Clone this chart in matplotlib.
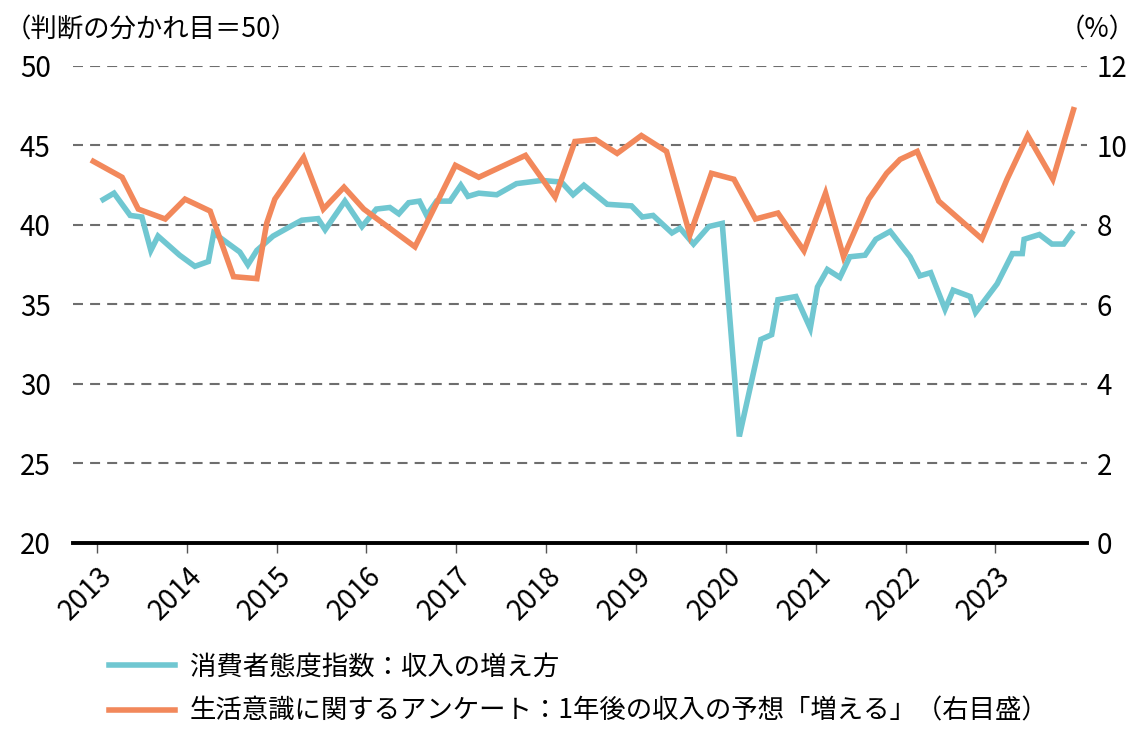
import numpy as np
import matplotlib
matplotlib.use("Agg")
import matplotlib.pyplot as plt

plt.rcParams['font.family'] = ['Noto Sans CJK JP', 'DejaVu Sans']

# ── Data (x in decimal years) ─────────────────────────────────────────────
# 消費者態度指数：収入の増え方 (left axis)
teal_t = [2013.07, 2013.19, 2013.37, 2013.50, 2013.60, 2013.68, 2013.92,
          2014.09, 2014.24, 2014.30, 2014.59, 2014.68, 2014.78, 2014.96,
          2015.15, 2015.28, 2015.46, 2015.54, 2015.76, 2015.95,
          2016.11, 2016.26, 2016.36, 2016.47, 2016.59, 2016.67, 2016.78, 2016.93,
          2017.05, 2017.13, 2017.25, 2017.45, 2017.67, 2017.95,
          2018.17, 2018.30, 2018.42, 2018.68, 2018.95,
          2019.07, 2019.19, 2019.40, 2019.49, 2019.64, 2019.81, 2019.96,
          2020.15, 2020.39, 2020.51, 2020.58, 2020.78, 2020.94,
          2021.02, 2021.13, 2021.27, 2021.38, 2021.55, 2021.67, 2021.83,
          2022.05, 2022.16, 2022.28, 2022.44, 2022.53, 2022.72, 2022.78,
          2023.02, 2023.19, 2023.30, 2023.32, 2023.49, 2023.63, 2023.76, 2023.85]
teal_v = [41.6, 42.0, 40.6, 40.5, 38.4, 39.3, 38.1,
          37.4, 37.7, 39.5, 38.3, 37.5, 38.4, 39.3,
          39.9, 40.3, 40.4, 39.7, 41.5, 39.9,
          41.0, 41.1, 40.7, 41.4, 41.5, 40.6, 41.5, 41.5,
          42.5, 41.8, 42.0, 41.9, 42.6, 42.8,
          42.7, 41.9, 42.5, 41.3, 41.2,
          40.5, 40.6, 39.5, 39.8, 38.8, 39.9, 40.1,
          26.7, 32.8, 33.1, 35.3, 35.5, 33.5,
          36.1, 37.2, 36.7, 38.0, 38.1, 39.1, 39.6,
          38.0, 36.8, 37.0, 34.7, 35.9, 35.5, 34.5,
          36.3, 38.2, 38.2, 39.1, 39.4, 38.8, 38.8, 39.5]

# 生活意識に関するアンケート：1年後の収入の予想「増える」 (right axis, %)
orange_t = [2012.96, 2013.28, 2013.46, 2013.76, 2013.98,
            2014.26, 2014.52, 2014.78, 2014.89, 2014.98,
            2015.30, 2015.52, 2015.75, 2015.97,
            2016.54, 2016.99, 2017.25, 2017.77,
            2018.10, 2018.32, 2018.55, 2018.79,
            2019.06, 2019.34, 2019.60, 2019.84,
            2020.09, 2020.33, 2020.58, 2020.87,
            2021.11, 2021.31, 2021.59, 2021.79, 2021.94,
            2022.13, 2022.37, 2022.85,
            2023.13, 2023.36, 2023.64, 2023.87]
orange_v = [9.6, 9.2, 8.4, 8.15, 8.65,
            8.35, 6.7, 6.65, 8.05, 8.65,
            9.7, 8.4, 8.95, 8.4,
            7.45, 9.5, 9.2, 9.75,
            8.7, 10.1, 10.15, 9.8,
            10.25, 9.85, 7.75, 9.3,
            9.15, 8.15, 8.3, 7.35,
            8.8, 7.2, 8.65, 9.3, 9.65,
            9.85, 8.6, 7.65,
            9.15, 10.25, 9.15, 10.9]

years = list(range(2013, 2024))
left_ticks = [20, 25, 30, 35, 40, 45, 50]
right_ticks = [0, 2, 4, 6, 8, 10, 12]

label_teal = '消費者態度指数：収入の増え方'
label_orange = '生活意識に関するアンケート：1年後の収入の予想「増える」（右目盛）'

teal = '#70C7D1'
orange = '#F2885B'

# ── Figure ────────────────────────────────────────────────────────────────
fig = plt.figure(figsize=(11.4, 7.47), dpi=100)
ax = fig.add_axes([0.064, 0.2731, 0.8895, 0.6386])
ax2 = ax.twinx()

ax.set_xlim(2012.733, 2024.02)
ax.set_ylim(20, 50)
ax2.set_ylim(0, 12)

# dashed grid on left-axis ticks (not the baseline)
for v in left_ticks[1:]:
    ax.axhline(v, color='#6e6e6e', linestyle=(0, (4.8, 3.4)), linewidth=1.5, zorder=1)

ax.plot(teal_t, teal_v, color=teal, linewidth=4.0, solid_joinstyle='miter',
        zorder=3, label=label_teal)
ax2.plot(orange_t, orange_v, color=orange, linewidth=4.0, solid_joinstyle='miter',
         zorder=3, label=label_orange)

for a in (ax, ax2):
    for s in ('top', 'left', 'right', 'bottom'):
        a.spines[s].set_visible(False)
ax.spines['bottom'].set_visible(True)
ax.spines['bottom'].set_linewidth(2.8)
ax.spines['bottom'].set_color('black')
ax.spines['bottom'].set_zorder(5)

ax.set_yticks(left_ticks)
ax.set_yticklabels([str(v) for v in left_ticks])
ax2.set_yticks(right_ticks)
ax2.set_yticklabels([str(v) for v in right_ticks])
ax.tick_params(axis='y', length=0, pad=16, labelsize=20)
ax2.tick_params(axis='y', length=0, pad=7, labelsize=20)

ax.set_xticks(years)
ax.set_xticklabels([str(y) for y in years], rotation=45, ha='right',
                   rotation_mode='anchor')
ax.tick_params(axis='x', direction='out', length=7, width=1, color='#555555',
               pad=6, labelsize=20)

fig.text(0.004, 0.978, '（判断の分かれ目＝50）', fontsize=19, ha='left', va='top')
fig.text(0.996, 0.978, '（%）', fontsize=19, ha='right', va='top')

h1, l1 = ax.get_legend_handles_labels()
h2, l2 = ax2.get_legend_handles_labels()
fig.legend(h1 + h2, l1 + l2, loc='upper left', bbox_to_anchor=(0.096, 0.125),
           frameon=False, fontsize=19, handlelength=2.5, handletextpad=0.55,
           labelspacing=0.65, borderpad=0, borderaxespad=0)

plt.savefig('out.png', dpi=100)
